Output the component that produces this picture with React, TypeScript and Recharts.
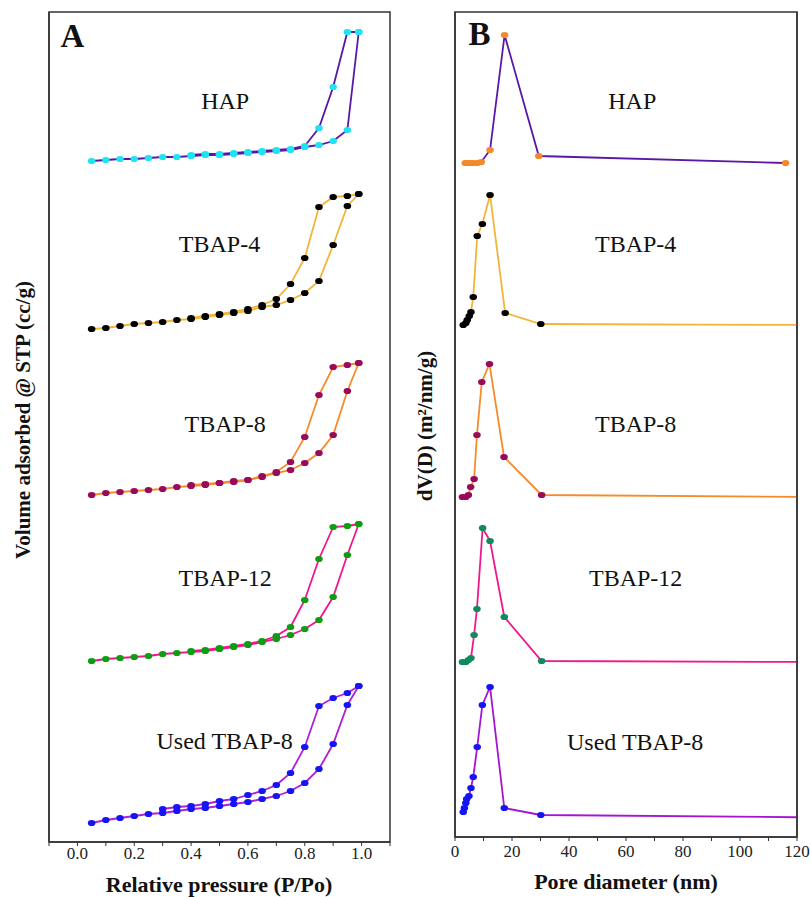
import React from "react";
import { LineChart, Line, XAxis, YAxis, ReferenceArea, ReferenceDot } from "recharts";

const FONT = '"Liberation Serif", "Times New Roman", serif';
const AXIS = "#333333";

// ---------- Panel A : N2 isotherms (stacked, arbitrary offset units) ----------
const adsP = [0.05, 0.1, 0.15, 0.2, 0.25, 0.3, 0.35, 0.4, 0.45, 0.5, 0.55, 0.6, 0.65, 0.7, 0.75, 0.8, 0.85, 0.9, 0.95, 0.99];
const desP = [0.99, 0.95, 0.9, 0.85, 0.8, 0.75, 0.7, 0.65, 0.6, 0.55, 0.5, 0.45, 0.4];
const usedDesP = [0.99, 0.95, 0.9, 0.85, 0.8, 0.75, 0.7, 0.65, 0.6, 0.55, 0.5, 0.45, 0.4, 0.35, 0.3];

const hapAds = [681, 682, 683, 683, 684, 685, 685, 686, 687, 687, 688, 689, 690, 691, 692, 695, 697, 701, 712, 810];
const hapDes = [810, 810, 755, 714, 696, 693, 692, 691, 690, 689, 688, 688, 687];
const tbap4Ads = [513, 514, 516, 518, 519, 520, 522, 523, 525, 527, 529, 531, 535, 537, 542, 549, 561, 597, 636, 648];
const tbap4Des = [648, 646, 645, 635, 584, 558, 543, 537, 533, 530, 528, 526, 524];
const tbap8Ads = [347, 349, 350, 351, 352, 353, 355, 356, 357, 359, 360, 362, 365, 369, 372, 379, 389, 407, 451, 479];
const tbap8Des = [479, 477, 475, 447, 405, 380, 370, 366, 362, 361, 359, 358, 357];
const tbap12Ads = [181, 183, 184, 185, 186, 188, 189, 190, 191, 193, 195, 197, 200, 203, 207, 213, 222, 245, 287, 318];
const tbap12Des = [318, 316, 315, 283, 242, 215, 206, 201, 198, 196, 194, 192, 191];
const usedAds = [19, 22, 24, 26, 28, 29, 31, 33, 34, 36, 38, 40, 43, 46, 51, 59, 73, 98, 137, 156];
const usedDes = [156, 149, 144, 136, 95, 69, 57, 51, 47, 43, 41, 38, 36, 35, 33];

const aTicks = [-0.1, 0, 0.1, 0.2, 0.3, 0.4, 0.5, 0.6, 0.7, 0.8, 0.9, 1.0, 1.1];

// ---------- Panel B : pore size distribution ----------
const hapD = [3.6, 4.3, 5.0, 5.6, 6.4, 7.8, 9.2, 12.3, 17.4, 29.4, 116];
const hapV = [674, 674, 674, 674, 674, 674, 675, 687, 802, 681, 674];
const tbap4D = [2.9, 3.8, 4.3, 5.0, 5.6, 6.4, 7.8, 9.6, 12.3, 17.6, 30.1, 130];
const tbap4V = [512, 514, 517, 521, 525, 540, 601, 613, 642, 524, 513, 512];
const tbap8D = [2.6, 3.8, 4.7, 5.5, 6.7, 7.7, 9.4, 12.1, 17.2, 30.4, 130];
const tbap8V = [340, 340, 342, 350, 358, 402, 455, 473, 380, 342, 340];
const tbap12D = [2.6, 3.8, 4.7, 5.6, 6.7, 7.7, 9.7, 12.3, 17.3, 30.4, 130];
const tbap12V = [175, 175, 177, 179, 202, 228, 309, 296, 220, 176, 175];
const usedD = [2.9, 3.3, 3.8, 4.1, 4.9, 5.6, 6.4, 7.8, 9.6, 12.3, 17.3, 30.1, 130];
const usedV = [25, 29, 34, 38, 41, 49, 60, 90, 132, 150, 29, 22, 19.5];

const bTicks = [0, 10, 20, 30, 40, 50, 60, 70, 80, 90, 100, 110, 120];
const bRightTicks = [9, 30, 51, 72, 92, 113, 134, 155];

// sample names and their annotation anchors (data coordinates)
const names = ["HAP", "TBAP-4", "TBAP-8", "TBAP-12", "Used TBAP-8"];
const aLabelP = [0.52, 0.5, 0.52, 0.52, 0.518];
const aLabelV = [742, 599, 419, 265, 102];
const bLabelD = [62.2, 63.4, 63.4, 63.4, 63.2];
const bLabelV = [737, 594, 414, 260, 96];

const pairs = (xs: number[], ys: number[]) => xs.map((x, i) => ({ x, y: ys[i] }));

const makeDot = (color: string) => (props: any) => {
  const { cx, cy, index } = props;
  if (cx == null || cy == null) return <g key={`d${index}`} />;
  return <ellipse key={`d${index}`} cx={cx} cy={cy} rx={3.8} ry={3.1} fill={color} />;
};

const aTick = (props: any) => {
  const { x, y, payload } = props;
  const k = Math.round(payload.value * 10);
  if (k < 0 || k > 10 || k % 2 !== 0) return <g />;
  return (
    <text x={x} y={y + 11} textAnchor="middle" fontSize={17} fontFamily={FONT} fill="#222">
      {(k / 10).toFixed(1)}
    </text>
  );
};

const bTick = (props: any) => {
  const { x, y, payload } = props;
  const v = payload.value;
  if (v % 20 !== 0) return <g />;
  return (
    <text x={x} y={y + 14} textAnchor="middle" fontSize={17} fontFamily={FONT} fill="#222">
      {String(v)}
    </text>
  );
};

const emptyTick = () => <g />;

const isoSeries = [
  { ads: hapAds, des: hapDes, desP: desP, line: "#5a17a6", mark: "#1fe3f2" },
  { ads: tbap4Ads, des: tbap4Des, desP: desP, line: "#f2b53a", mark: "#000000" },
  { ads: tbap8Ads, des: tbap8Des, desP: desP, line: "#f68b2c", mark: "#9a0a5a" },
  { ads: tbap12Ads, des: tbap12Des, desP: desP, line: "#f0168f", mark: "#0c9e10" },
  { ads: usedAds, des: usedDes, desP: usedDesP, line: "#b01fd6", mark: "#1414f5" },
];

const psdSeries = [
  { d: hapD, v: hapV, line: "#5a17a6", mark: "#f5892a" },
  { d: tbap4D, v: tbap4V, line: "#f2b53a", mark: "#000000" },
  { d: tbap8D, v: tbap8V, line: "#f68b2c", mark: "#9a0a5a" },
  { d: tbap12D, v: tbap12V, line: "#f0168f", mark: "#0f8a5c" },
  { d: usedD, v: usedV, line: "#a514d4", mark: "#1414f5" },
];

const labelStyle = { fontSize: 24, fontFamily: FONT, fill: "#111" };

export default function App() {
  return (
    <div style={{ position: "absolute", left: 0, top: 0, width: 811, height: 897, background: "#fff" }}>
      <div style={{ position: "absolute", left: 0, top: 0 }}>
        <LineChart width={400} height={897} margin={{ top: 12, right: 10, bottom: 0, left: 0 }}>
          <XAxis
            type="number"
            dataKey="x"
            domain={[-0.1, 1.1]}
            ticks={aTicks}
            interval={0}
            allowDataOverflow
            height={55}
            tickSize={4}
            tick={aTick}
            tickLine={{ stroke: AXIS }}
            axisLine={{ stroke: AXIS, strokeWidth: 1.5 }}
            label={{
              content: () => (
                <text x={219} y={892} textAnchor="middle" fontSize={22} fontWeight="bold" fontFamily={FONT} fill="#111">
                  Relative pressure (P/Po)
                </text>
              ),
            }}
          />
          <YAxis
            type="number"
            domain={[0, 830]}
            allowDataOverflow
            width={49}
            tick={false}
            tickLine={false}
            axisLine={{ stroke: AXIS, strokeWidth: 1.5 }}
            label={{
              content: () => (
                <g>
                  <text
                    transform="translate(22.5,420) rotate(-90)"
                    textAnchor="middle"
                    dominantBaseline="central"
                    fontSize={21}
                    fontWeight="bold"
                    fontFamily={FONT}
                    fill="#111"
                  >
                    Volume adsorbed @ STP (cc/g)
                  </text>
                  <text x={72.5} y={47} textAnchor="middle" fontSize={33} fontWeight="bold" fontFamily={FONT} fill="#111">
                    A
                  </text>
                </g>
              ),
            }}
          />
          <ReferenceArea x1={-0.1} x2={1.1} y1={0} y2={830} fill="none" stroke={AXIS} strokeWidth={1.5} />
          {isoSeries.map((s, i) => (
            <Line
              key={`des${i}`}
              data={pairs(s.desP, s.des)}
              dataKey="y"
              type="linear"
              stroke={s.line}
              strokeWidth={1.8}
              dot={makeDot(s.mark)}
              activeDot={false}
              isAnimationActive={false}
            />
          ))}
          {isoSeries.map((s, i) => (
            <Line
              key={`ads${i}`}
              data={pairs(adsP, s.ads)}
              dataKey="y"
              type="linear"
              stroke={s.line}
              strokeWidth={1.8}
              dot={makeDot(s.mark)}
              activeDot={false}
              isAnimationActive={false}
            />
          ))}
          {names.map((n, i) => (
            <ReferenceDot
              key={`al${i}`}
              x={aLabelP[i]}
              y={aLabelV[i]}
              r={0}
              fill="none"
              stroke="none"
              label={{ value: n, position: "center", ...labelStyle }}
            />
          ))}
        </LineChart>
      </div>

      <div style={{ position: "absolute", left: 400, top: 0 }}>
        <LineChart width={411} height={897} margin={{ top: 12, right: 0, bottom: 0, left: 0 }}>
          <XAxis
            type="number"
            dataKey="x"
            domain={[0, 120]}
            ticks={bTicks}
            interval={0}
            allowDataOverflow
            height={60}
            tickSize={4}
            tick={bTick}
            tickLine={{ stroke: AXIS }}
            axisLine={{ stroke: AXIS, strokeWidth: 1.5 }}
            label={{
              content: () => (
                <text x={226} y={889} textAnchor="middle" fontSize={22} fontWeight="bold" fontFamily={FONT} fill="#111">
                  Pore diameter (nm)
                </text>
              ),
            }}
          />
          <YAxis
            yAxisId="l"
            type="number"
            domain={[0, 825]}
            allowDataOverflow
            width={55}
            tick={false}
            tickLine={false}
            axisLine={{ stroke: AXIS, strokeWidth: 1.5 }}
            label={{
              content: () => (
                <g>
                  <text
                    transform="translate(25,426) rotate(-90)"
                    textAnchor="middle"
                    dominantBaseline="central"
                    fontSize={21}
                    fontWeight="bold"
                    fontFamily={FONT}
                    fill="#111"
                  >
                    dV(D) (m²/nm/g)
                  </text>
                  <text x={79.5} y={45} textAnchor="middle" fontSize={33} fontWeight="bold" fontFamily={FONT} fill="#111">
                    B
                  </text>
                </g>
              ),
            }}
          />
          <YAxis
            yAxisId="r"
            orientation="right"
            type="number"
            domain={[0, 825]}
            ticks={bRightTicks}
            interval={0}
            width={14}
            tickSize={3}
            tick={emptyTick}
            tickLine={{ stroke: AXIS }}
            axisLine={{ stroke: AXIS, strokeWidth: 1.5 }}
          />
          <ReferenceArea yAxisId="l" x1={0} x2={120} y1={0} y2={825} fill="none" stroke={AXIS} strokeWidth={1.5} />
          {psdSeries.map((s, i) => (
            <Line
              key={`psd${i}`}
              yAxisId="l"
              data={pairs(s.d, s.v)}
              dataKey="y"
              type="linear"
              stroke={s.line}
              strokeWidth={1.8}
              dot={makeDot(s.mark)}
              activeDot={false}
              isAnimationActive={false}
            />
          ))}
          {names.map((n, i) => (
            <ReferenceDot
              key={`bl${i}`}
              yAxisId="l"
              x={bLabelD[i]}
              y={bLabelV[i]}
              r={0}
              fill="none"
              stroke="none"
              label={{ value: n, position: "center", ...labelStyle }}
            />
          ))}
        </LineChart>
      </div>
    </div>
  );
}
